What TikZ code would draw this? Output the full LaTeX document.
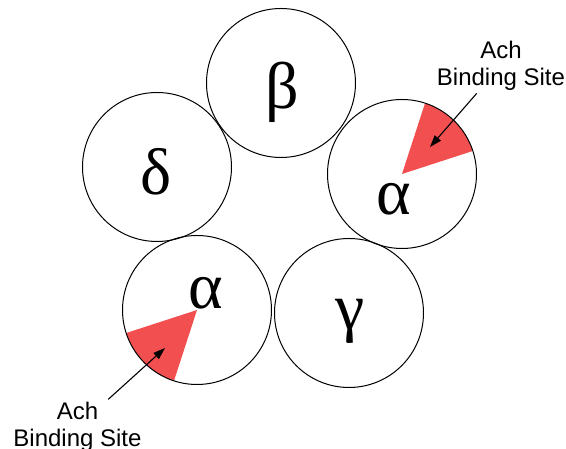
\documentclass[tikz,border=0pt]{standalone}
\usepackage{fontspec}
\setmainfont{Liberation Sans}
\newfontfamily\greekfont{Liberation Serif}
\usetikzlibrary{arrows.meta}
\definecolor{achred}{HTML}{F25050}

\begin{document}
\begin{tikzpicture}[
  x=1pt, y=1pt,
  subunit/.style={draw, circle, line width=1pt, minimum size=149pt, inner sep=0pt},
  greek/.style={font=\fontsize{66}{70}\selectfont\greekfont, inner sep=0pt},
  sitelabel/.style={font=\fontsize{24}{27}\selectfont, align=center, inner sep=3pt},
  pointer/.style={line width=1.1pt, -{Triangle[length=12pt,width=8pt]}}
]
\useasboundingbox (0,0) rectangle (566,449);
\coordinate (cR) at (402,275);
\coordinate (cL) at (197,139);
% binding sites
\fill[achred] (cR) -- ++(18:74.5) arc[start angle=18, end angle=72, radius=74.5] -- cycle;
\fill[achred] (cL) -- ++(198:74.5) arc[start angle=198, end angle=252, radius=74.5] -- cycle;
% subunits
\node[subunit] (beta)   at (281,366) {};
\node[subunit] (delta)  at (157,282) {};
\node[subunit] (alphaR) at (cR) {};
\node[subunit] (alphaL) at (cL) {};
\node[subunit] (gamma)  at (349,136) {};
\node[greek] (tbeta)   at (282,357) {β};
\node[greek] (tdelta)  at (156,277) {δ};
\node[greek] (talphaR) at (394,250) {α};
\node[greek] (talphaL) at (206,156) {α};
\node[greek] (tgamma)  at (350,128) {γ};
% labels
\node[sitelabel] (siteR) at (501,383.5) {Ach\\Binding Site};
\node[sitelabel] (siteL) at (77.5,21.75) {Ach\\Binding Site};
\coordinate (tipR) at (430,302);
\coordinate (tipL) at (165,101);
\draw[pointer] (siteR) -- (tipR);
\draw[pointer] (siteL) -- (tipL);
\end{tikzpicture}
\end{document}
